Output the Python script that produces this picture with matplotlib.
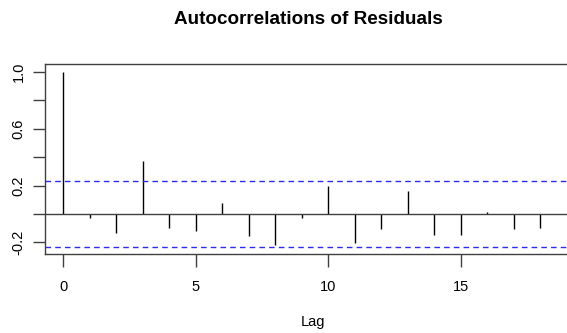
import matplotlib
matplotlib.use("Agg")
import matplotlib.pyplot as plt
import numpy as np

# residual ACF, lags 0..18, n = 70 observations
lags = np.arange(0, 19)
acf_vals = [1.0, -0.026, -0.131, 0.372, -0.096, -0.122, 0.079, -0.157, -0.216,
            -0.030, 0.197, -0.206, -0.108, 0.164, -0.148, -0.148, 0.012, -0.108, -0.096]
n_obs = 70
conf = 1.96 / np.sqrt(n_obs)

y_ticks = [-0.2, 0.0, 0.2, 0.4, 0.6, 0.8, 1.0]
y_ticklabels = ["-0.2", "", "0.2", "", "0.6", "", "1.0"]
x_ticks = [0, 5, 10, 15]

plt.rcParams['font.family'] = ['Liberation Sans', 'DejaVu Sans']

fig = plt.figure(figsize=(5.67, 3.33), dpi=100)
# frame runs off the right edge like the original export
ax = fig.add_axes([45 / 567, 79 / 333, 535 / 567, 190 / 333])

frame_col = "#404040"
ax.vlines(lags, 0, acf_vals, color="black", lw=1.0)
ax.axhline(0, color=frame_col, lw=1.0)
for c in (conf, -conf):
    ax.axhline(c, color="#2a2aff", lw=1.0, linestyle=(0, (4, 3)))

ax.set_xlim(-0.68, 19.5)
ax.set_ylim(-0.281, 1.054)
ax.set_yticks(y_ticks)
ax.set_yticklabels(y_ticklabels, rotation=90, va="center")
ax.set_xticks(x_ticks)

for s in ax.spines.values():
    s.set_color(frame_col)
    s.set_linewidth(1.0)
ax.tick_params(axis="both", colors=frame_col, labelcolor="black", length=9,
               width=1.0, labelsize=10.5)
ax.tick_params(axis="x", pad=10)
ax.tick_params(axis="y", pad=5)

ax.set_xlabel("Lag", fontsize=10.5, labelpad=15)
fig.text(308 / 567, 1 - 20 / 333, "Autocorrelations of Residuals",
         ha="center", va="center", fontsize=13.6, fontweight="bold")

fig.savefig("out.png", dpi=100)
